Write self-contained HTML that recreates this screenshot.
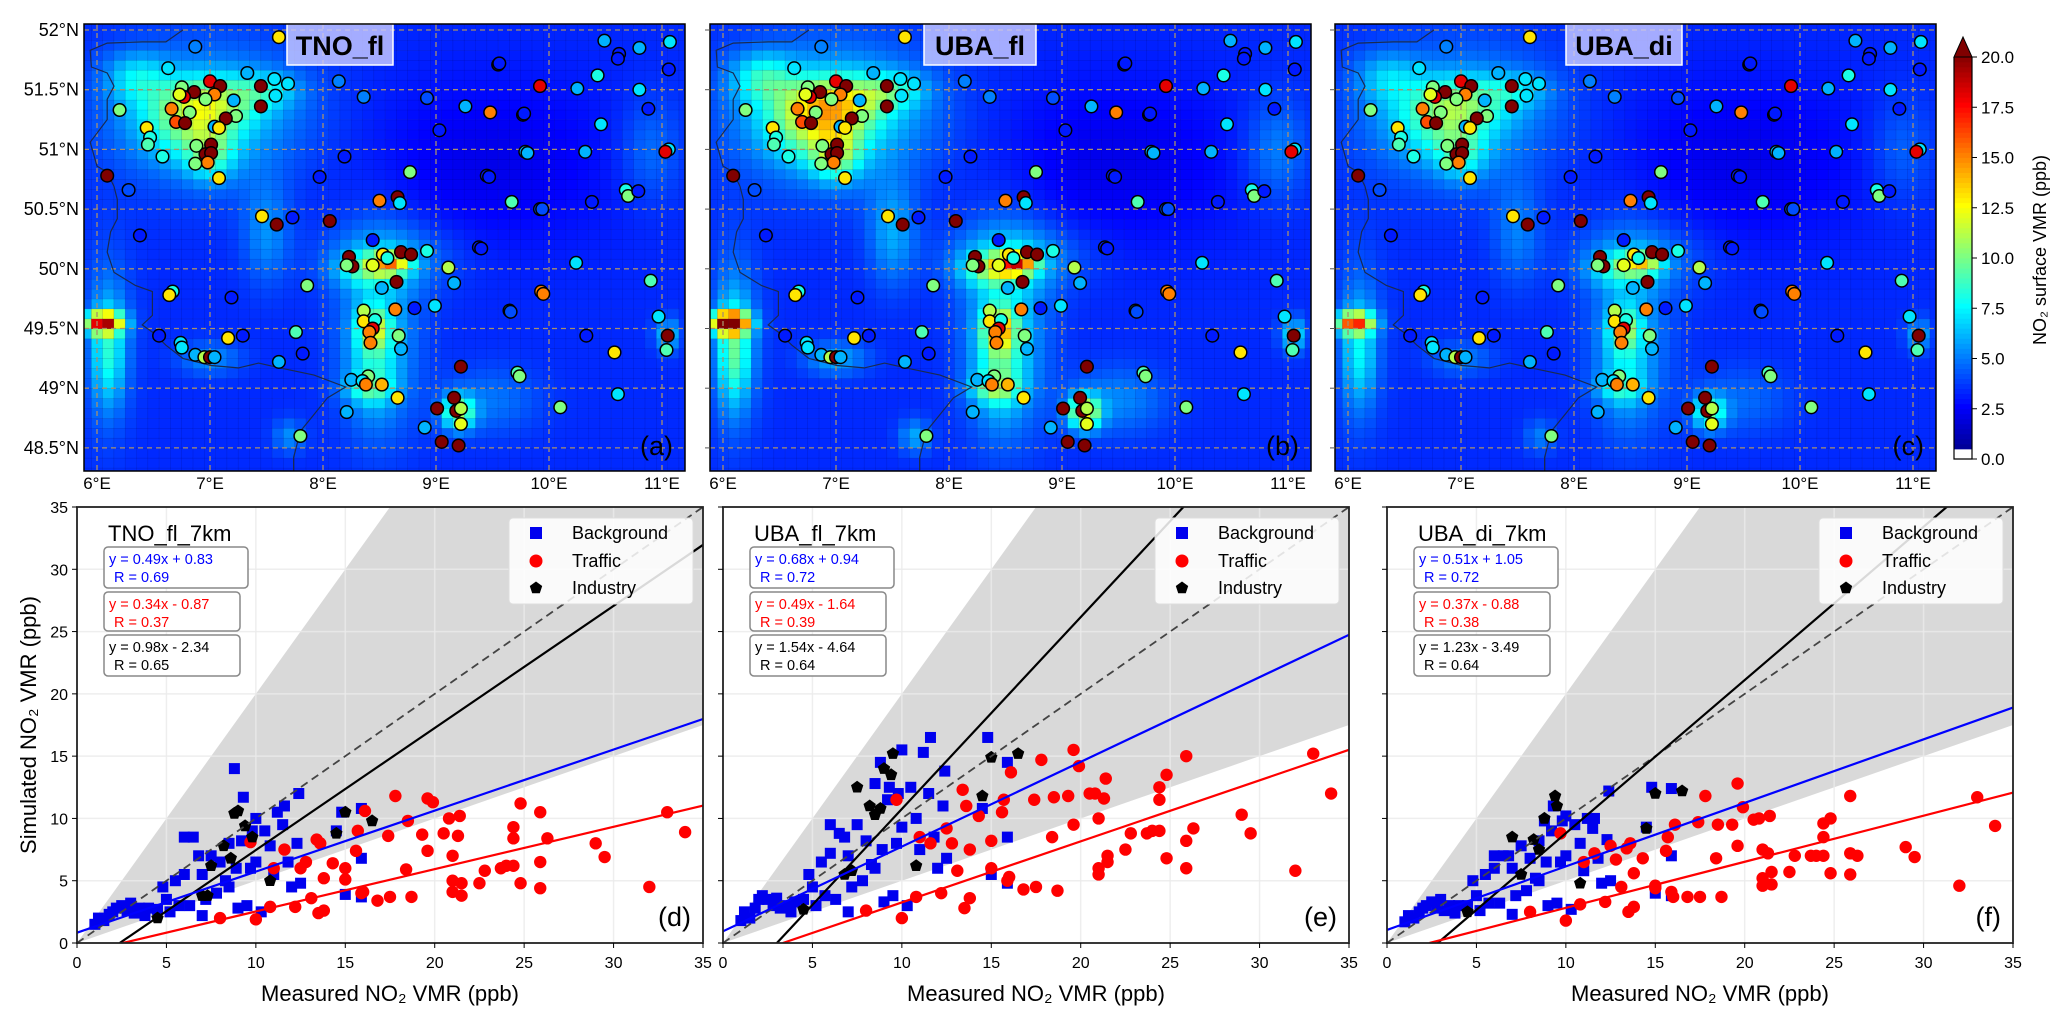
<!DOCTYPE html>
<html><head><meta charset="utf-8">
<style>
html,body{margin:0;padding:0;background:#fff;}
svg{display:block;font-family:"Liberation Sans","DejaVu Sans",sans-serif;}
</style></head>
<body>
<svg id="fig" width="2067" height="1015" viewBox="0 0 2067 1015">
<rect x="0" y="0" width="2067" height="1015" fill="#fff"/>
</svg>
<script>
// ---------- MAP DATA ----------
const mapTitles=['TNO_fl','UBA_fl','UBA_di'];
const mapLetters=['(a)','(b)','(c)'];
const panelAmpScale=[1.0,1.25,0.85];
const hotLon=[7.0,6.8,6.35,7.5,7.0,8.6,8.4,8.45,8.45,9.2,6.05,6.1,8.4,7.5,7.0,11.05,9.5,9.5,10.9,7.7,7.0,8.5,6.1,8.6];
const hotLat=[51.4,51.2,51.6,51.5,50.95,50.05,50.0,49.5,49.2,48.8,49.55,49.3,49.0,50.3,49.25,49.45,48.9,50.9,51.0,48.6,51.3,49.5,49.4,50.1];
const hotAmp=[4,3.5,3,2.5,3.5,7,3.5,5,2.5,6.5,13,3,3,2,2,3,1.5,-1.2,1.5,2,3,2.5,2,2];
const hotSx=[0.3,0.3,0.2,0.2,0.15,0.12,0.2,0.1,0.15,0.1,0.12,0.1,0.15,0.15,0.2,0.08,0.3,0.8,0.2,0.1,0.6,0.25,0.15,0.4];
const hotSy=[0.15,0.2,0.15,0.1,0.15,0.06,0.1,0.12,0.3,0.1,0.06,0.3,0.08,0.3,0.1,0.1,0.2,0.5,0.3,0.1,0.4,0.6,0.5,0.2];
const stLon=[7.61,6.87,6.63,7.33,7.57,7.69,8.14,7.0,7.09,6.75,6.86,6.77,6.73,7.04,6.96,7.45,7.58,7.21,7.45,6.66,6.82,6.2,7.23,7.14,6.7,6.78,6.44,6.47,6.45,7.04,7.08,6.88,7.01,6.96,7.01,6.98,6.87,6.58,7.08,6.09,6.28,6.38,8.36,8.92,9.03,9.26,9.48,9.55,9.77,9.92,9.79,8.19,7.97,8.77,9.45,9.67,8.5,8.66,8.68,9.92,7.46,7.59,7.73,8.06,8.44,9.38,8.23,8.26,8.21,8.44,8.53,8.57,8.69,8.78,8.92,9.11,9.16,9.93,8.65,8.52,7.86,6.67,6.64,7.19,8.36,8.36,8.46,8.44,8.41,8.42,8.64,8.81,8.99,9.65,8.67,8.69,6.55,6.74,6.75,6.87,6.95,7.0,7.04,7.16,7.29,7.76,7.82,7.61,9.22,9.72,8.25,8.4,8.35,8.38,8.52,8.66,8.21,9.01,9.16,9.18,9.22,9.22,8.9,9.05,9.2,7.8,9.56,10.49,10.62,10.61,10.8,11.07,11.06,10.43,10.25,10.8,10.88,10.46,9.78,11.06,11.03,10.32,9.81,9.47,10.68,10.7,10.79,10.38,9.94,10.24,10.9,9.95,9.66,10.33,10.97,11.05,11.04,10.58,9.74,10.61,10.1,9.4];
const stLat=[51.94,51.86,51.68,51.64,51.59,51.55,51.57,51.57,51.53,51.52,51.48,51.44,51.46,51.46,51.42,51.53,51.45,51.41,51.36,51.34,51.31,51.33,51.28,51.26,51.23,51.22,51.18,51.1,51.04,51.19,51.18,51.03,51.04,50.96,50.97,50.89,50.88,50.94,50.76,50.78,50.66,50.28,51.44,51.43,51.16,51.36,51.31,51.71,51.29,51.53,50.98,50.94,50.77,50.81,50.78,50.56,50.57,50.6,50.55,50.5,50.44,50.37,50.43,50.4,50.24,50.18,50.1,50.02,50.03,50.03,50.12,50.09,50.14,50.12,50.15,50.01,49.88,49.81,49.89,49.84,49.86,49.81,49.78,49.76,49.65,49.56,49.57,49.5,49.47,49.38,49.66,49.67,49.69,49.65,49.44,49.33,49.44,49.38,49.34,49.28,49.26,49.26,49.26,49.42,49.44,49.47,49.29,49.22,49.18,49.13,49.07,49.1,49.06,49.03,49.03,48.92,48.8,48.83,48.92,48.81,48.83,48.7,48.67,48.55,48.52,48.6,51.72,51.91,51.8,51.76,51.85,51.9,51.67,51.62,51.51,51.5,51.34,51.21,51.3,51.0,50.98,50.98,50.97,50.77,50.66,50.61,50.65,50.56,50.5,50.05,49.9,49.79,49.64,49.44,49.6,49.44,49.32,49.3,49.1,48.95,48.84,50.17];
const stVal=[13,5,7,6,7,7,5,18,20,10,20,18,12,15,10,20,7,6,20,15,10,10,10,20,16,20,13,8,9,6,13,10,20,20,20,15,10,8,13,20,4,3,5,4,3,6,15,3,3,18,6,3,3,10,3,9,15,20,7,4,13,20,3,20,3,3,20,20,10,12,13,8,20,20,8,11,6,15,20,6,10,8,13,3,11,13,8,18,15,15,15,3,7,6,10,6,3,7,7,6,11,20,6,13,3,9,3,6,20,9,6,10,7,15,14,13,6,20,20,20,11,12,6,20,20,10,3,6,3,3,6,7,3,8,6,7,3,7,3,7,18,6,6,3,8,10,3,3,4,7,9,15,4,3,7,20,9,13,10,7,10,3];
const borderLon=[6.76,6.61,6.4,6.09,5.94,5.95,6.09,6.15,6.09,6.09,5.94,6.0,6.09,6.15,6.18,6.18,6.12,6.09,6.15,6.34,6.49,6.49,6.4,6.49,6.61,6.76,7.01,7.25,7.43,7.62,7.92,8.2,8.04,7.92,7.8,7.74,7.74];
const borderLat=[52.0,51.9,51.9,51.89,51.83,51.69,51.64,51.53,51.42,51.25,51.06,50.86,50.81,50.69,50.58,50.42,50.31,50.14,49.97,49.86,49.81,49.61,49.53,49.47,49.36,49.25,49.19,49.17,49.21,49.17,49.11,49.01,48.92,48.78,48.64,48.42,48.3];
const latTicks=[48.5,49,49.5,50,50.5,51,51.5,52];
const lonTicks=[6,7,8,9,10,11];
const cbarTicks=[0,2.5,5,7.5,10,12.5,15,17.5,20];

// ---------- SCATTER DATA ----------
const scatTitles=['TNO_fl_7km','UBA_fl_7km','UBA_di_7km'];
const scatLetters=['(d)','(e)','(f)'];
const blueX=[1,1.2,1.5,1.8,2,2.2,2.5,2.8,3,3.2,3.5,3.8,4,4.5,4.8,5,5.2,5.5,5.7,6,6,6.5,6.3,6.8,7,7,7.2,7.5,7.8,8,8.3,8.5,8.8,8.9,9,9.2,9.5,9.7,9.8,10,10,10.3,10.5,10.8,11,11.2,11.5,11.6,11.8,12,12.3,12.4,12.5,14.5,14.8,15,15.9,15.9,15.9,9.3,8.5];
const blueY_d=[1.5,2,1.8,2.3,2.5,2.8,3,2.6,3.2,2.4,2.8,2.2,2.8,2.7,4.5,3.5,2.5,5,3,5.5,8.5,8.5,3,7,2.2,5.5,3.5,7,4,6.5,5,8,14,6,2.8,8.2,3,6,9,10,6.5,2.5,9,7.8,5.5,10.5,9.5,11,6.5,4.5,8,12,4.8,9,10.5,3.9,10.8,3.7,6.8,11.7,4.5];
const blueY_e=[1.8,2.5,2,2.8,3.5,3.8,3.5,3,3.6,2.8,3,2.5,3.3,3.5,5.5,4.5,3,6.5,3.8,7.2,9.5,8.8,3.5,8.5,2.5,7,4.5,9.5,5,8.2,6.3,12.8,14.5,7.5,3.3,11.5,3.8,8,12,15.5,9.3,3,12.5,10,7.5,15.3,12,16.5,8.5,6,11,13.8,6.8,10.8,16.5,5.5,14.5,4.8,8.5,12.5,6];
const blueY_f=[1.7,2.2,2,2.5,2.8,3,3.3,2.8,3.5,2.6,3,2.4,3,3,5,3.8,2.6,5.5,3.2,6,7,7,3.2,7,2.3,6,3.8,7.8,4.2,6.8,5.2,8.2,9.8,6.5,3,9,3.2,6.5,9.8,10.2,7,2.7,9.5,8,5.8,10,9.2,10,6.8,4.8,8.3,12.2,5,9.3,12.5,4,12.4,3.8,7,11,5];
const redX=[9.7,11.6,12.5,13.4,13.6,14.3,13.8,15,15,15.7,15.6,15.9,16.1,16,17.4,17.8,18.5,18.4,18.7,19.3,19.6,19.9,19.6,20.5,20.8,21,21,21,21.3,21.4,21.5,21.5,22.5,22.8,23.7,24,24.4,24.4,24.4,24.8,24.8,25.9,25.9,25.9,26.3,16.8,17.5,8,10,10.8,12.2,13.1,13.5,13.8,29,29.5,32,33,34,11,12.8];
const redY_d=[8.1,7.5,6,8.3,8,6.4,5.2,6,5.1,9,7.4,4,10.6,4.1,8.6,11.8,9.8,5.9,3.7,8.7,11.6,11.3,7.4,8.8,10,5,4.1,7,8.6,10.2,3.8,4.8,4.8,5.8,6,6.2,6.2,8.4,9.3,11.2,4.8,10.5,6.5,4.4,8.4,3.4,3.7,2,1.9,2.9,2.9,3.6,2.4,2.6,8,6.9,4.5,10.5,8.9,6,6.5];
const redY_e=[11.5,8,9.2,12.3,11,10.2,7.5,8.2,6,11.5,10.5,5,13.7,5.3,11.5,14.7,11.7,8.5,4.2,11.8,15.5,14.2,9.5,12,12,6,5.5,10,11.6,13.2,6.5,7,7.5,8.8,8.8,9,9,11.5,12.5,13.5,6.8,15,8.2,6,9.2,4.3,4.5,2.6,2.0,3.7,4,5.8,2.8,3.6,10.3,8.8,5.8,15.2,12,8.5,8];
const redY_f=[8.8,7.2,7.8,7.6,8,6.8,5.6,4.6,4.4,8.5,7.4,4.1,9.5,3.7,9.7,11.8,9.5,6.8,3.7,9.5,12.8,10.9,7.8,9.9,10,4.6,5.2,7.5,7.2,10.2,5.7,4.7,5.7,7,7,7,7,8.5,9.6,10,5.6,11.8,7.2,5.5,7,3.7,3.7,2.5,1.8,3.1,3.3,4.5,2.5,2.9,7.7,6.9,4.6,11.7,9.4,6.5,6.7];
const indX_d=[4.5,7,7.3,7.5,8.2,8.6,8.8,9,9.4,9.8,10.8,14.5,15,16.5];
const indY_d=[2,3.8,3.8,6.2,7.8,6.8,10.4,10.6,9.4,8.5,5,8.8,10.5,9.8];
const indX_e=[4.5,6.8,7.2,7.5,8.2,8.5,8.8,9,9.4,9.5,10.8,14.5,15,16.5];
const indY_e=[2.7,5.5,5.8,12.5,11,10.3,10.8,14,13.5,15.2,6.2,11.8,14.9,15.2];
const indX_f=[4.5,7,7.5,8.2,8.5,8.8,9.4,9.5,10.8,14.5,15,16.5];
const indY_f=[2.5,8.5,5.5,8.3,7.5,10,11.8,11,4.8,9.2,12,12.2];
const blueSlope=[0.49,0.68,0.51], blueInt=[0.83,0.94,1.05], blueR=[0.69,0.72,0.72];
const redSlope=[0.34,0.49,0.37], redInt=[-0.87,-1.64,-0.88], redR=[0.37,0.39,0.38];
const blkSlope=[0.98,1.54,1.23], blkInt=[-2.34,-4.64,-3.49], blkR=[0.65,0.64,0.64];
const axTicks=[0,5,10,15,20,25,30,35];
const legendLabels=['Background','Traffic','Industry'];

// ---------- helpers ----------
const svg=document.getElementById('fig');
const NS=svg.namespaceURI;
function mk(tag,attrs,parent){const e=document.createElementNS(NS,tag);for(const k in attrs)e.setAttribute(k,attrs[k]);(parent||svg).appendChild(e);return e;}
function cl(v){return Math.max(0,Math.min(1,v));}
function jet(t){t=cl(t);const r=cl(1.5-Math.abs(4*t-3)),g=cl(1.5-Math.abs(4*t-2)),b=cl(1.5-Math.abs(4*t-1));return 'rgb('+Math.round(r*255)+','+Math.round(g*255)+','+Math.round(b*255)+')';}
const defs=mk('defs',{});

// ---------- maps ----------
const mapLeft=[84,710,1335], mapW=601, mapTop=24, mapBot=471;
const titleCenter=[256,270,289], titleW=[106,112,116];
for(let p=0;p<3;p++){
  const L=mapLeft[p];
  const X=lon=>L+13+(lon-6)*113;
  const Y=lat=>30+(52-lat)*119.4;
  const cp=mk('clipPath',{id:'mclip'+p},defs);
  mk('rect',{x:L,y:mapTop,width:mapW,height:mapBot-mapTop},cp);
  const g=mk('g',{'clip-path':'url(#mclip'+p+')'});
  
  
  const hm=mk('g',{},g);
  
  
  const dlon=0.1,dlat=0.0833;
  for(let lon=5.85;lon<11.25;lon+=dlon){
    for(let lat=48.25;lat<52.1;lat+=dlat){
      const cx=lon+dlon/2, cy=lat+dlat/2;
      let v=3.3;
      for(let h=0;h<hotLon.length;h++){
        const dx=(cx-hotLon[h])/hotSx[h], dy=(cy-hotLat[h])/hotSy[h];
        v+=hotAmp[h]*(hotAmp[h]>0?panelAmpScale[p]:1)*Math.exp(-0.5*(dx*dx+dy*dy));
      }
      const c=mk('rect',{x:X(lon).toFixed(1),y:Y(lat+dlat).toFixed(1),width:(dlon*113+0.3).toFixed(1),height:(dlat*119.4+0.3).toFixed(1),fill:jet(v/20),stroke:'rgba(0,0,90,0.18)','stroke-width':0.6},hm);
      
      
    }
  }
  for(const lt of latTicks){const l=mk('line',{x1:L,x2:L+mapW,y1:Y(lt),y2:Y(lt),stroke:'#a8906c','stroke-width':1.3,'stroke-dasharray':'5,4'},g);}
  for(const ln of lonTicks){const l=mk('line',{x1:X(ln),x2:X(ln),y1:mapTop,y2:mapBot,stroke:'#a8906c','stroke-width':1.3,'stroke-dasharray':'5,4'},g);}
  let d='';for(let i=0;i<borderLon.length;i++)d+=(i?'L':'M')+X(borderLon[i]).toFixed(1)+','+Y(borderLat[i]).toFixed(1);
  const b=mk('path',{d:d,fill:'none',stroke:'#1a2a50','stroke-width':1.2},g);
  
  
  for(let i=0;i<stLon.length;i++){
    const c=mk('circle',{cx:X(stLon[i]).toFixed(1),cy:Y(stLat[i]).toFixed(1),r:6.3,fill:jet(stVal[i]/20),stroke:'#000','stroke-width':1.5},g);
    
    
  }
  const tb=mk('rect',{x:L+titleCenter[p]-titleW[p]/2,y:mapTop,width:titleW[p],height:41,fill:'rgba(205,205,255,0.8)',stroke:'#fff','stroke-width':1.5},g);
  
  
  const tt=mk('text',{x:L+titleCenter[p],y:mapTop+31,'text-anchor':'middle','font-size':27,'font-weight':'bold',fill:'#000'},g);
  tt.textContent=mapTitles[p];
  
  
  const pl=mk('text',{x:L+mapW-12,y:455,'text-anchor':'end','font-size':27,fill:'#000'},g);
  pl.textContent=mapLetters[p];
  
  
  const fr=mk('rect',{x:L,y:mapTop,width:mapW,height:mapBot-mapTop,fill:'none',stroke:'#000','stroke-width':1.5});
  
  
  for(const ln of lonTicks){const t=mk('text',{x:X(ln),y:489,'text-anchor':'middle','font-size':17,fill:'#000'});t.textContent=ln+'°E';}
  for(const lt of latTicks){
    if(p===0){const t=mk('text',{x:L-5,y:Y(lt)+6,'text-anchor':'end','font-size':18,fill:'#000'});t.textContent=lt+'°N';}
    else{const t=mk('line',{x1:L-5,x2:L,y1:Y(lt),y2:Y(lt),stroke:'#555','stroke-width':1});}
  }
}
// colorbar
{
  const cx=1954,cw=18,cb0=459,cb20=57;
  const CY=v=>cb0-(v/20)*(cb0-cb20);
  const cg=mk('g',{});
  
  
  for(let v=0;v<20;v+=0.25){
    const s=mk('rect',{x:cx,y:CY(v+0.25),width:cw,height:(cb0-cb20)/80+0.4,fill:v<0.5?'#fff':jet(v/20)},cg);
    
    
  }
  const tri=mk('path',{d:'M'+cx+','+cb20+' L'+(cx+cw/2)+',37 L'+(cx+cw)+','+cb20+' Z',fill:jet(1.0),stroke:'#000','stroke-width':1},cg);
  
  
  const fr=mk('path',{d:'M'+cx+','+cb20+' L'+cx+','+cb0+' L'+(cx+cw)+','+cb0+' L'+(cx+cw)+','+cb20,fill:'none',stroke:'#000','stroke-width':1.2},cg);
  
  
  for(const v of cbarTicks){
    const l=mk('line',{x1:cx+cw,x2:cx+cw+5,y1:CY(v),y2:CY(v),stroke:'#000','stroke-width':1},cg);
    
    
    const t=mk('text',{x:cx+cw+9,y:CY(v)+6,'font-size':17,fill:'#000'},cg);
    t.textContent=v.toFixed(1);
    
    
  }
  const lab=mk('text',{x:0,y:0,'font-size':18,'text-anchor':'middle',fill:'#000',transform:'translate(2046,250) rotate(-90)'},cg);
  lab.textContent='NO₂ surface VMR (ppb)';
  
  
}

// ---------- scatter panels ----------
const sLeft=[77,723,1387], sW=626, sTop=507, sBot=943;
const blueYs=[blueY_d,blueY_e,blueY_f], redYs=[redY_d,redY_e,redY_f];
const indXs=[indX_d,indX_e,indX_f], indYs=[indY_d,indY_e,indY_f];
function pent(cx,cy,r){let s='';for(let k=0;k<5;k++){const a=-Math.PI/2+k*2*Math.PI/5;s+=(k?'L':'M')+(cx+r*Math.cos(a)).toFixed(1)+','+(cy+r*Math.sin(a)).toFixed(1);}return s+'Z';}
for(let p=0;p<3;p++){
  const L=sLeft[p];
  const X=v=>L+v/35*sW;
  const Y=v=>sBot-v/35*(sBot-sTop);
  const cp=mk('clipPath',{id:'sclip'+p},defs);
  mk('rect',{x:L,y:sTop,width:sW,height:sBot-sTop},cp);
  const g=mk('g',{'clip-path':'url(#sclip'+p+')'});
  
  
  const sh=mk('path',{d:'M'+X(0)+','+Y(0)+' L'+X(17.5)+','+Y(35)+' L'+X(35)+','+Y(35)+' L'+X(35)+','+Y(17.5)+' Z',fill:'#d9d9d9'},g);
  
  
  for(const v of axTicks){
    const a=mk('line',{x1:X(v),x2:X(v),y1:sTop,y2:sBot,stroke:'#ebebeb','stroke-width':1.5,opacity:0.8},g);
    
    const b=mk('line',{x1:L,x2:L+sW,y1:Y(v),y2:Y(v),stroke:'#ebebeb','stroke-width':1.5,opacity:0.8},g);
    
  }
  const bx=blueX, by=blueYs[p];
  for(let i=0;i<bx.length;i++){
    const m=mk('rect',{x:X(bx[i])-5.5,y:Y(by[i])-5.5,width:11,height:11,fill:'#0000ee'},g);
    
    
  }
  const ry=redYs[p];
  for(let i=0;i<redX.length;i++){
    const m=mk('circle',{cx:X(redX[i]),cy:Y(ry[i]),r:6.2,fill:'#ff0000'},g);
    
    
  }
  const ix=indXs[p], iy=indYs[p];
  for(let i=0;i<ix.length;i++){
    const m=mk('path',{d:pent(X(ix[i]),Y(iy[i]),6.5),fill:'#000'},g);
    
    
  }
  const one=mk('line',{x1:X(0),y1:Y(0),x2:X(35),y2:Y(35),stroke:'#444','stroke-width':1.8,'stroke-dasharray':'8,5'},g);
  
  
  const fits=[[blkSlope[p],blkInt[p],'#000','industry-fit-line'],[blueSlope[p],blueInt[p],'#0000ff','background-fit-line'],[redSlope[p],redInt[p],'#ff0000','traffic-fit-line']];
  for(const f of fits){
    const x0=Math.max(0,-f[1]/f[0]);
    const l=mk('line',{x1:X(x0),y1:Y(f[0]*x0+f[1]),x2:X(40),y2:Y(f[0]*40+f[1]),stroke:f[2],'stroke-width':2.2},g);
    
    
  }
  const pl=mk('text',{x:L+sW-12,y:926,'text-anchor':'end','font-size':27,fill:'#000'},g);
  pl.textContent=scatLetters[p];
  
  
  const fr=mk('rect',{x:L,y:sTop,width:sW,height:sBot-sTop,fill:'none',stroke:'#222','stroke-width':1.8});
  
  
  for(const v of axTicks){
    const t=mk('line',{x1:X(v),x2:X(v),y1:sBot,y2:sBot+5,stroke:'#000'});
    
    const tl=mk('text',{x:X(v),y:968,'text-anchor':'middle','font-size':16,fill:'#000'});
    tl.textContent=v;
    const u=mk('line',{x1:L-5,x2:L,y1:Y(v),y2:Y(v),stroke:'#000'});
    
    if(p===0){const yl=mk('text',{x:L-9,y:Y(v)+6,'text-anchor':'end','font-size':16,fill:'#000'});yl.textContent=v;}
  }
  const xl=mk('text',{x:L+sW/2,y:1001,'text-anchor':'middle','font-size':22,fill:'#000'});
  xl.textContent='Measured NO₂ VMR (ppb)';
  
  
  const ti=mk('text',{x:L+31,y:541,'font-size':22,fill:'#000'});
  ti.textContent=scatTitles[p];
  
  
  const eq=[[blueSlope[p],blueInt[p],blueR[p],'#0000ff',547,41,144],[redSlope[p],redInt[p],redR[p],'#ff0000',592,39,136],[blkSlope[p],blkInt[p],blkR[p],'#000',635,41,136]];
  for(const e of eq){
    const bxr=mk('rect',{x:L+27,y:e[4],width:e[6],height:e[5],rx:4,fill:'#fff',stroke:'#888','stroke-width':1.5});
    
    
    const t1=mk('text',{x:L+32,y:e[4]+17,'font-size':14.5,fill:e[3]});
    t1.textContent='y = '+e[0].toFixed(2)+'x '+(e[1]<0?'- ':'+ ')+Math.abs(e[1]).toFixed(2);
    
    
    const t2=mk('text',{x:L+37,y:e[4]+35,'font-size':14.5,fill:e[3]});
    t2.textContent='R = '+e[2].toFixed(2);
    
    
  }
  const lg=mk('g',{});
  
  
  const lb=mk('rect',{x:L+sW-194,y:518,width:184,height:86,rx:4,fill:'rgba(255,255,255,0.85)',stroke:'#ddd'},lg);
  
  
  const rows=[533,561,588];
  const mx=L+sW-167;
  const m1=mk('rect',{x:mx-6,y:rows[0]-6,width:12,height:12,fill:'#0000ee'},lg);
  
  const m2=mk('circle',{cx:mx,cy:rows[1],r:6.5,fill:'#ff0000'},lg);
  
  const m3=mk('path',{d:pent(mx,rows[2],6.5),fill:'#000'},lg);
  
  for(let k=0;k<3;k++){
    const t=mk('text',{x:L+sW-131,y:rows[k]+6,'font-size':18,fill:'#000'},lg);
    t.textContent=legendLabels[k];
    
    
  }
}
const yt=mk('text',{x:0,y:0,'font-size':22,'text-anchor':'middle',fill:'#000',transform:'translate(36,725) rotate(-90)'});
yt.textContent='Simulated NO₂ VMR (ppb)';


</script>
</body></html>
